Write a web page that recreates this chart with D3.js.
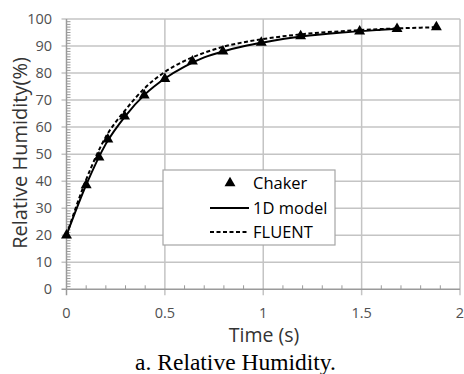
<!DOCTYPE html>
<html>
<head>
<meta charset="utf-8">
<script src="https://cdn.jsdelivr.net/npm/d3@7"></script>
<style>
  body { margin: 0; background: #fff; }
  svg { display: block; }
</style>
</head>
<body>
<svg width="464" height="374"></svg>
<script>
// data
const chakerT  = [0, 0.1, 0.165, 0.21, 0.295, 0.395, 0.5, 0.64, 0.795, 0.99, 1.19, 1.49, 1.68, 1.88];
const chakerRH = [20, 38.6, 48.8, 55.5, 64, 71.8, 77.9, 84.3, 88, 91.3, 93.7, 95.4, 96.4, 97];

const modelT  = [0, 0.1, 0.2, 0.3, 0.4, 0.5, 0.6, 0.7, 0.8, 0.9, 1.0, 1.2, 1.4, 1.6, 1.69];
const modelRH = [20, 38.6, 53.8, 64.2, 72.2, 78, 82.4, 85.8, 88.1, 89.9, 91.3, 93.6, 95, 96, 96.4];

const fluentT  = [0, 0.1, 0.2, 0.3, 0.4, 0.5, 0.6, 0.7, 0.8, 0.9, 1.0, 1.2, 1.4, 1.6, 1.8, 1.89];
const fluentRH = [20, 40.6, 56.4, 66.4, 74.6, 80.4, 84.5, 87.5, 89.8, 91.4, 92.6, 94.4, 95.5, 96.3, 96.8, 97];

const xTicks = [0, 0.5, 1, 1.5, 2];
const yTicks = [0, 10, 20, 30, 40, 50, 60, 70, 80, 90, 100];
const legendNames = ["Chaker", "1D model", "FLUENT"];

const svg = d3.select("svg");
const font = "'Open Sans', sans-serif";

const x = d3.scaleLinear().domain([0, 2]).range([66.5, 460]);
const y = d3.scaleLinear().domain([0, 100]).range([289.3, 19]);

// gridlines
svg.append("g").selectAll("line").data(yTicks.slice(1)).join("line")
  .attr("x1", x(0) - 5).attr("x2", x(2))
  .attr("y1", d => y(d)).attr("y2", d => y(d))
  .attr("stroke", "#c4c4c4").attr("stroke-width", 1.5);

svg.append("g").selectAll("line").data(xTicks.slice(1)).join("line")
  .attr("x1", d => x(d)).attr("x2", d => x(d))
  .attr("y1", y(100)).attr("y2", y(0) + 6)
  .attr("stroke", "#c4c4c4").attr("stroke-width", 1.5);

// minor ticks
const yMinor = d3.range(0, 101, 1).filter(d => d % 10 !== 0);
svg.append("g").selectAll("line").data(yMinor).join("line")
  .attr("x1", x(0)).attr("x2", x(0) + 4)
  .attr("y1", d => y(d)).attr("y2", d => y(d))
  .attr("stroke", "#9a9a9a").attr("stroke-width", 1);

const xMinor = d3.range(1, 20).filter(d => d % 5 !== 0).map(d => d / 10);
svg.append("g").selectAll("line").data(xMinor).join("line")
  .attr("x1", d => x(d)).attr("x2", d => x(d))
  .attr("y1", y(0) - 4).attr("y2", y(0))
  .attr("stroke", "#9a9a9a").attr("stroke-width", 1);

// axis lines
svg.append("line")
  .attr("x1", x(0) - 5).attr("x2", x(2))
  .attr("y1", y(0)).attr("y2", y(0))
  .attr("stroke", "#9a9a9a").attr("stroke-width", 1.5);
svg.append("line")
  .attr("x1", x(0)).attr("x2", x(0))
  .attr("y1", y(100)).attr("y2", y(0) + 6)
  .attr("stroke", "#9a9a9a").attr("stroke-width", 1.5);

// tick labels
svg.append("g").selectAll("text").data(yTicks).join("text")
  .attr("x", 52).attr("y", d => y(d) + 5)
  .attr("text-anchor", "end")
  .attr("font-family", font).attr("font-size", 14.5)
  .attr("fill", "#505050")
  .text(d => d);

svg.append("g").selectAll("text").data(xTicks).join("text")
  .attr("x", d => x(d)).attr("y", 318)
  .attr("text-anchor", "middle")
  .attr("font-family", font).attr("font-size", 14.5)
  .attr("fill", "#505050")
  .text(d => d);

// axis titles
svg.append("text")
  .attr("x", 264).attr("y", 342)
  .attr("text-anchor", "middle")
  .attr("font-family", font).attr("font-size", 19.5)
  .attr("fill", "#333")
  .text("Time (s)");

svg.append("text")
  .attr("transform", "translate(27,153) rotate(-90)")
  .attr("text-anchor", "middle")
  .attr("font-family", font).attr("font-size", 20)
  .attr("fill", "#333")
  .text("Relative Humidity(%)");

// caption
svg.append("text")
  .attr("x", 235.5).attr("y", 370)
  .attr("text-anchor", "middle")
  .attr("font-family", "'Liberation Serif', 'Times New Roman', serif")
  .attr("font-size", 23.5)
  .attr("fill", "#000")
  .text("a. Relative Humidity.");

// curves
const line = d3.line().x(d => x(d[0])).y(d => y(d[1])).curve(d3.curveMonotoneX);

svg.append("path")
  .attr("d", line(d3.zip(fluentT, fluentRH)))
  .attr("fill", "none").attr("stroke", "#000")
  .attr("stroke-width", 2).attr("stroke-dasharray", "4,2.5");

svg.append("path")
  .attr("d", line(d3.zip(modelT, modelRH)))
  .attr("fill", "none").attr("stroke", "#000")
  .attr("stroke-width", 2);

// markers
const tri = d3.symbol().type(d3.symbolTriangle).size(52);
svg.append("g").selectAll("path").data(d3.zip(chakerT, chakerRH)).join("path")
  .attr("transform", d => `translate(${x(d[0])},${y(d[1])})`)
  .attr("d", tri)
  .attr("fill", "#000");

// legend
const lg = svg.append("g");
lg.append("rect")
  .attr("x", 163).attr("y", 170).attr("width", 172).attr("height", 75)
  .attr("fill", "#fff").attr("stroke", "#a6a6a6").attr("stroke-width", 1.2);

const rowY = [183, 208, 232];
lg.append("path")
  .attr("transform", `translate(230,${rowY[0]})`)
  .attr("d", tri).attr("fill", "#000");
lg.append("line")
  .attr("x1", 210).attr("x2", 249).attr("y1", rowY[1]).attr("y2", rowY[1])
  .attr("stroke", "#000").attr("stroke-width", 2);
lg.append("line")
  .attr("x1", 210).attr("x2", 249).attr("y1", rowY[2]).attr("y2", rowY[2])
  .attr("stroke", "#000").attr("stroke-width", 2).attr("stroke-dasharray", "4,2.5");

lg.selectAll("text").data(legendNames).join("text")
  .attr("x", 253).attr("y", (d, i) => rowY[i] + 6)
  .attr("font-family", font).attr("font-size", 16.5)
  .attr("fill", "#000")
  .text(d => d);
</script>
</body>
</html>
